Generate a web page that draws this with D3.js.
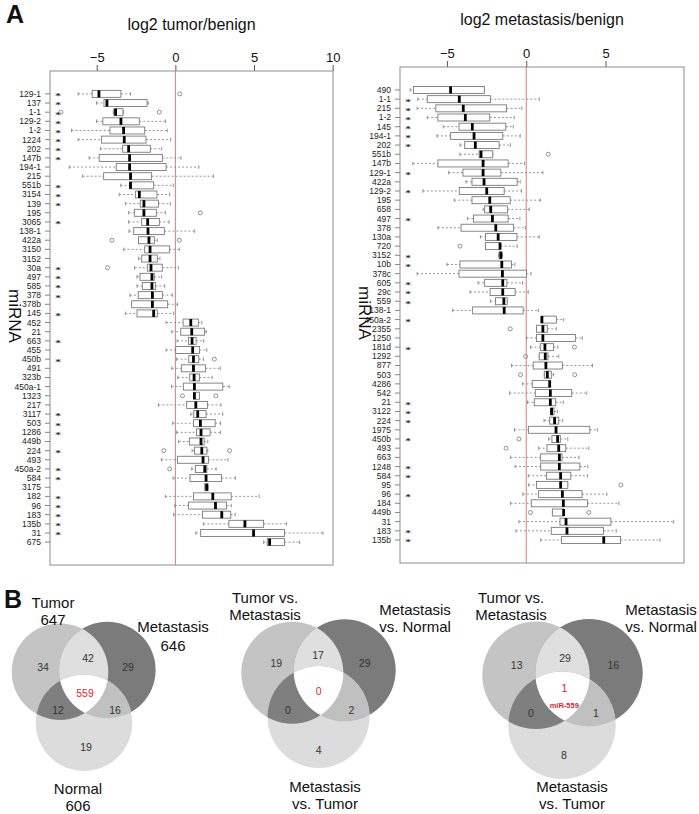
<!DOCTYPE html>
<html><head><meta charset="utf-8">
<script src="https://cdn.jsdelivr.net/npm/d3@7"></script>
<style>body{margin:0;background:#fff}svg{display:block;font-family:"Liberation Sans",Arial,sans-serif}</style>
</head><body><svg id="c" width="699" height="814"></svg>
<script>
// ---------- Panel A, left: log2 tumor/benign ----------
const tumorLabels = ["129-1","137","1-1","129-2","1-2","1224","202","147b","194-1","215","551b","3154","139","195","3065","138-1","422a","3150","3152","30a","497","585","378","378b","145","452","21","663","455","450b","491","323b","450a-1","1323","217","3117","503","1286","449b","224","493","450a-2","584","3175","182","96","183","135b","31","675"];
const tumorLo  = [-6.18,-5.01,-3.95,-5.01,-6.60,-6.18,-4.76,-5.48,-6.75,-5.90,-3.48,-3.57,-3.18,-2.97,-2.97,-2.95,-2.34,-3.29,-2.34,-2.59,-2.44,-2.44,-2.89,-2.78,-3.18,-0.59,-0.23,0.11,-0.59,0.08,-0.23,0.15,-0.25,1.15,-1.08,0.98,-0.17,0.08,0.21,1.06,-0.89,1.04,-0.15,1.87,-0.64,-0.04,-0.11,1.78,1.30,5.61];
const tumorQ1  = [-5.29,-4.54,-3.91,-4.61,-4.16,-4.69,-3.35,-4.84,-3.76,-4.56,-2.91,-2.53,-2.23,-2.61,-2.14,-2.65,-2.34,-1.95,-2.14,-1.78,-2.25,-2.10,-2.36,-2.78,-2.44,0.49,0.34,0.83,0.02,0.85,0.38,0.91,0.51,1.15,0.72,1.17,1.15,1.34,0.89,1.21,0.13,1.27,0.93,1.87,1.15,0.83,1.72,3.40,1.61,5.84];
const tumorMed = [-4.86,-4.35,-3.80,-3.46,-3.29,-3.25,-2.97,-2.91,-2.91,-2.85,-2.85,-2.29,-2.00,-2.00,-1.76,-1.74,-1.68,-1.61,-1.61,-1.55,-1.49,-1.49,-1.46,-1.46,-1.38,0.98,1.04,1.06,1.10,1.15,1.15,1.19,1.21,1.21,1.30,1.42,1.59,1.63,1.63,1.68,1.76,1.87,1.95,1.99,2.38,2.55,2.95,4.42,4.97,5.99];
const tumorQ3  = [-3.46,-1.80,-3.33,-2.29,-1.95,-1.87,-1.59,-0.83,-0.59,-1.51,-1.38,-1.17,-1.08,-1.21,-1.02,-0.70,-1.34,-0.38,-1.15,-0.83,-1.34,-1.27,-0.83,-0.49,-1.15,1.46,1.85,1.32,1.53,1.49,1.91,1.53,3.01,1.53,2.04,1.95,2.53,2.21,1.83,2.00,2.10,2.00,2.93,2.08,3.55,3.25,3.52,5.61,6.94,6.94];
const tumorHi  = [-2.85,-1.72,-3.30,-0.62,-0.51,-0.30,-0.87,0.36,1.49,2.42,-0.13,-0.36,-0.32,-0.64,-0.40,1.23,-1.15,0.25,-0.98,0.19,-0.87,-0.68,-0.19,0.13,-0.11,1.68,1.97,1.80,2.00,1.78,2.85,2.34,3.42,1.53,2.89,3.01,2.87,2.87,2.06,2.06,3.35,2.59,3.82,2.08,5.33,3.55,3.80,7.07,9.38,7.90];
const tumorSig = ["129-1","137","1-1","129-2","1-2","1224","202","147b","551b","3154","139","3065","30a","497","585","378","145","663","450b","3117","503","1286","224","450a-2","584","182","96","183","135b","31"];
const tumorOutRow = ["129-1","1-1","1-1","195","422a","422a","30a","450b","1323","1323","224","224","450a-2"];
const tumorOutVal = [0.28,-7.28,-1.02,1.59,-4.03,0.25,-4.31,2.48,0.45,2.57,-0.74,3.44,-0.36];
const tumorTicks = [-5,0,5,10];

// ---------- Panel A, right: log2 metastasis/benign ----------
const metLabels = ["490","1-1","215","1-2","145","194-1","202","551b","147b","129-1","422a","129-2","195","658","497","378","130a","720","3152","10b","378c","605","29c","559","138-1","450a-2","2355","1250","181d","1292","877","503","4286","542","21","3122","224","1975","450b","493","663","1248","584","95","96","184","449b","31","183","135b"];
const metLo  = [-7.32,-6.84,-6.88,-6.24,-5.23,-5.63,-4.18,-4.18,-7.15,-4.89,-3.80,-6.52,-4.54,-2.72,-3.71,-5.57,-2.89,-2.57,-1.75,-5.00,-6.88,-3.04,-3.54,-2.26,-4.64,0.95,0.65,0.02,0.27,0.82,-0.93,1.14,-0.23,-1.05,0.08,1.54,1.12,-0.74,1.41,0.78,-0.99,-0.70,0.13,0.15,-0.21,-0.99,1.65,-0.46,-0.65,0.91];
const metQ1  = [-7.11,-6.24,-5.70,-5.57,-4.24,-4.77,-3.88,-2.97,-5.57,-3.99,-3.42,-4.22,-3.42,-2.62,-3.33,-4.11,-2.57,-2.57,-1.71,-4.18,-4.24,-2.62,-2.28,-1.94,-3.38,0.95,0.65,0.65,0.89,0.82,0.44,1.14,0.38,0.57,0.51,1.54,1.48,0.15,1.62,1.31,0.91,0.91,1.27,0.65,0.78,0.32,1.65,2.13,1.58,2.22];
const metMed = [-4.77,-4.22,-3.97,-3.84,-3.40,-3.29,-3.21,-2.85,-2.72,-2.72,-2.66,-2.49,-2.30,-2.24,-2.13,-1.92,-1.77,-1.65,-1.60,-1.54,-1.50,-1.48,-1.48,-1.41,-1.39,0.99,1.05,1.05,1.18,1.20,1.24,1.33,1.48,1.52,1.52,1.60,1.79,1.88,1.98,2.05,2.09,2.09,2.17,2.17,2.28,2.34,2.36,2.51,2.57,4.89];
const metQ3  = [-2.64,-2.26,-1.24,-2.30,-1.29,-1.48,-1.71,-2.11,-1.14,-1.60,-0.57,-1.39,-1.01,-1.18,-1.14,-0.80,-0.59,-1.62,-1.54,-0.93,0.02,-1.22,-0.70,-1.20,-0.19,1.90,1.33,3.10,1.73,1.37,2.28,1.58,1.52,2.87,1.86,1.75,2.05,4.01,2.15,2.49,2.26,3.38,2.81,2.62,3.52,3.86,2.36,5.34,4.87,5.95];
const metHi  = [-2.64,0.82,-0.27,-0.76,-0.82,-0.38,-0.99,-2.11,-0.11,1.05,-0.38,-0.30,0.89,0.19,-0.40,-0.06,0.82,-0.57,-1.50,-0.72,0.30,-0.23,0.13,-1.20,0.78,2.36,1.90,3.54,2.00,2.05,4.18,1.73,1.52,3.82,2.34,1.96,2.30,4.49,2.62,3.95,3.33,3.88,3.86,2.62,5.08,5.84,2.36,9.30,5.68,8.44];
const metSig = ["1-1","215","1-2","145","194-1","202","129-1","129-2","497","3152","10b","605","29c","559","450a-2","181d","21","3122","224","450b","1248","584","96","183","135b"];
const metOutRow = ["551b","720","2355","181d","1292","503","503","450b","493","95","449b","449b"];
const metOutVal = [1.39,-4.18,-1.01,3.04,-0.04,-0.36,3.06,-0.46,-1.27,5.97,0.27,3.95];
const metTicks = [-5,0,5];

// ---------- Panel B: Venn diagrams ----------
// region order: [A only, A∩B, B only, A∩C, A∩B∩C, B∩C, C only]
const venn1Names = [["Tumor","647"],["Metastasis","646"],["Normal","606"]];
const venn1Counts = [34,42,29,12,559,16,19];
const venn2Names = [["Tumor vs.","Metastasis"],["Metastasis","vs. Normal"],["Metastasis","vs. Tumor"]];
const venn2Counts = [19,17,29,0,0,2,4];
const venn3Names = [["Tumor vs.","Metastasis"],["Metastasis","vs. Normal"],["Metastasis","vs. Tumor"]];
const venn3Counts = [13,29,16,0,1,1,8];
const venn3Note = "miR-559";

const svg = d3.select("#c");
const GRAY = "#7a7a7a";

function boxPanel(cfg){
  const g = svg.append("g");
  const n = cfg.labels.length;
  const x = d3.scaleLinear().domain(cfg.xDomain).range([cfg.left, cfg.right]);
  const y = d3.scaleLinear().domain([-1.5, n + 2.5]).range([cfg.top, cfg.bottom]);
  const rowY = i => y(i + 1);
  const bh = 7;

  g.append("line").attr("x1", x(0)).attr("x2", x(0)).attr("y1", cfg.top).attr("y2", cfg.bottom)
    .attr("stroke", "#e07a7a").attr("stroke-width", 1);

  const ax = d3.axisTop(x).tickValues(cfg.ticks).tickSize(6).tickPadding(3)
    .tickFormat(d => d < 0 ? "\u2212" + Math.abs(d) : String(d));
  const axg = g.append("g").attr("transform", `translate(0,${cfg.top})`).call(ax);
  axg.select(".domain").remove();
  axg.selectAll(".tick line").attr("stroke", "#555");
  axg.selectAll(".tick text").attr("font-size", 13).attr("fill", "#111")
    .attr("font-family", "Liberation Sans, Arial, sans-serif");

  g.append("text").attr("x", (cfg.left + cfg.right) / 2).attr("y", cfg.titleY)
    .attr("text-anchor", "middle").attr("font-size", 16).attr("fill", "#111").text(cfg.title);

  const rows = g.append("g");
  cfg.labels.forEach((lab, i) => {
    rows.append("line").attr("x1", cfg.left - 5).attr("x2", cfg.left)
      .attr("y1", rowY(i)).attr("y2", rowY(i)).attr("stroke", "#666").attr("stroke-width", 0.8);
    rows.append("text").attr("x", cfg.left - 9).attr("y", rowY(i)).attr("dy", "0.35em")
      .attr("text-anchor", "end").attr("font-size", 8.5).attr("fill", "#222").text(lab);
    if (cfg.sig.includes(lab))
      rows.append("text").attr("transform", `translate(${cfg.left + 8},${rowY(i) + 4.4}) scale(1.4,1)`)
        .attr("text-anchor", "middle").attr("font-family", "DejaVu Sans").attr("font-weight", "bold")
        .attr("font-size", 7.8).attr("fill", "#222").text("*");
  });

  g.append("text").attr("transform", `translate(${cfg.ylabX},${(cfg.top + cfg.bottom) / 2 - 2}) rotate(90)`)
    .attr("text-anchor", "middle").attr("font-size", 17).attr("fill", "#111").text("miRNA");

  const bx = g.append("g");
  cfg.labels.forEach((lab, i) => {
    const cy = rowY(i);
    const lo = cfg.lo[i], q1 = cfg.q1[i], md = cfg.med[i], q3 = cfg.q3[i], hi = cfg.hi[i];
    if (x(q1) - x(lo) > 0.5)
      bx.append("line").attr("x1", x(lo)).attr("x2", x(q1)).attr("y1", cy).attr("y2", cy)
        .attr("stroke", "#8a8a8a").attr("stroke-width", 0.9).attr("stroke-dasharray", "2,2");
    if (x(hi) - x(q3) > 0.5)
      bx.append("line").attr("x1", x(q3)).attr("x2", x(hi)).attr("y1", cy).attr("y2", cy)
        .attr("stroke", "#8a8a8a").attr("stroke-width", 0.9).attr("stroke-dasharray", "2,2");
    [lo, hi].forEach(v => bx.append("line").attr("x1", x(v)).attr("x2", x(v))
      .attr("y1", cy - 1.8).attr("y2", cy + 1.8).attr("stroke", "#8a8a8a").attr("stroke-width", 0.9));
    bx.append("rect").attr("x", x(q1)).attr("y", cy - bh / 2).attr("width", Math.max(0.5, x(q3) - x(q1)))
      .attr("height", bh).attr("fill", "#fff").attr("stroke", GRAY).attr("stroke-width", 0.9);
    bx.append("line").attr("x1", x(md)).attr("x2", x(md)).attr("y1", cy - bh / 2).attr("y2", cy + bh / 2)
      .attr("stroke", "#000").attr("stroke-width", 2.8);
  });
  cfg.outRow.forEach((lab, k) => {
    const i = cfg.labels.indexOf(lab);
    bx.append("circle").attr("cx", x(cfg.outVal[k])).attr("cy", rowY(i)).attr("r", 2)
      .attr("fill", "none").attr("stroke", "#777").attr("stroke-width", 0.8);
  });

  g.append("rect").attr("x", cfg.left).attr("y", cfg.top).attr("width", cfg.right - cfg.left)
    .attr("height", cfg.bottom - cfg.top).attr("fill", "none").attr("stroke", "#8c8c8c").attr("stroke-width", 1);
}

boxPanel({labels: tumorLabels, lo: tumorLo, q1: tumorQ1, med: tumorMed, q3: tumorQ3, hi: tumorHi,
  sig: tumorSig, outRow: tumorOutRow, outVal: tumorOutVal, ticks: tumorTicks,
  xDomain: [-7.97, 10.02], left: 50, right: 333, top: 71, bottom: 565,
  title: "log2 tumor/benign", titleY: 30, ylabX: 9});

boxPanel({labels: metLabels, lo: metLo, q1: metQ1, med: metMed, q3: metQ3, hi: metHi,
  sig: metSig, outRow: metOutRow, outVal: metOutVal, ticks: metTicks,
  xDomain: [-7.96, 9.95], left: 400, right: 684, top: 67, bottom: 563,
  title: "log2 metastasis/benign", titleY: 25, ylabX: 359});

svg.append("text").attr("x", 6).attr("y", 23).attr("font-size", 25).attr("font-weight", "bold").attr("fill", "#111").text("A");
svg.append("text").attr("x", 4).attr("y", 608).attr("font-size", 25).attr("font-weight", "bold").attr("fill", "#111").text("B");

let clipId = 0;
function venn(cfg){
  const g = svg.append("g");
  const [A, B, C] = cfg.centers;
  const r = cfg.r;
  const cols = {A: "#c4c4c4", B: "#7b7b7b", C: "#dcdcdc", AB: "#dfdfdf", AC: "#7f7f7f", BC: "#c0c0c0", ABC: "#ffffff"};
  const defs = g.append("defs");
  const mkClip = c => {
    const id = "vc" + (clipId++);
    defs.append("clipPath").attr("id", id).append("circle").attr("cx", c[0]).attr("cy", c[1]).attr("r", r);
    return id;
  };
  const circ = (sel, c, fill) => sel.append("circle").attr("cx", c[0]).attr("cy", c[1]).attr("r", r).attr("fill", fill);
  circ(g, A, cols.A); circ(g, B, cols.B); circ(g, C, cols.C);
  const cA = mkClip(A), cB = mkClip(B);
  circ(g.append("g").attr("clip-path", `url(#${cA})`), B, cols.AB);
  circ(g.append("g").attr("clip-path", `url(#${cA})`), C, cols.AC);
  circ(g.append("g").attr("clip-path", `url(#${cB})`), C, cols.BC);
  circ(g.append("g").attr("clip-path", `url(#${cA})`).append("g").attr("clip-path", `url(#${cB})`), C, cols.ABC);

  cfg.counts.forEach((v, k) => {
    const p = cfg.countPos[k];
    g.append("text").attr("x", p[0]).attr("y", p[1]).attr("dy", "0.35em").attr("text-anchor", "middle")
      .attr("font-size", 10.5).attr("fill", k === 4 ? "#e8202a" : "#333").text(v);
  });
  if (cfg.note) {
    g.append("text").attr("x", cfg.notePos[0]).attr("y", cfg.notePos[1]).attr("dy", "0.35em")
      .attr("text-anchor", "middle").attr("font-size", 7.5).attr("font-weight", "bold")
      .attr("fill", "#e8202a").text(cfg.note);
  }
  cfg.names.forEach((lines, k) => {
    const p = cfg.namePos[k];
    lines.forEach((t, j) => {
      g.append("text").attr("x", p.x).attr("y", p.y[j]).attr("text-anchor", "middle")
        .attr("font-size", 15).attr("fill", "#111").text(t);
    });
  });
}

venn({centers: [[60, 671.7], [107.3, 670], [84, 722.7]], r: 48.3, counts: venn1Counts, names: venn1Names,
  countPos: [[43, 667], [88, 658], [128, 667], [58, 710], [85, 693], [115, 710], [86, 747]],
  namePos: [{x: 53, y: [608, 625]}, {x: 173, y: [632, 651]}, {x: 78, y: [794, 811]}]});

venn({centers: [[292.3, 672.7], [344.7, 670.3], [318.5, 717]], r: 51, counts: venn2Counts, names: venn2Names,
  countPos: [[276.3, 663.3], [318, 655], [364.7, 663.3], [288, 710], [318.7, 691.7], [351.3, 710], [318.7, 750]],
  namePos: [{x: 265, y: [603, 620]}, {x: 415, y: [615, 632]}, {x: 325, y: [792.3, 809.3]}]});

venn({centers: [[536, 675.3], [589, 672.7], [562, 725.3]], r: 53.7, counts: venn3Counts, names: venn3Names,
  note: venn3Note, notePos: [564.3, 705],
  countPos: [[516.7, 665], [565, 658.3], [613.3, 665], [531, 713.3], [564.3, 688.3], [596, 713.3], [564, 755]],
  namePos: [{x: 511, y: [603, 620]}, {x: 661, y: [615, 632]}, {x: 572, y: [791.5, 808.5]}]});
</script>
</body></html>
